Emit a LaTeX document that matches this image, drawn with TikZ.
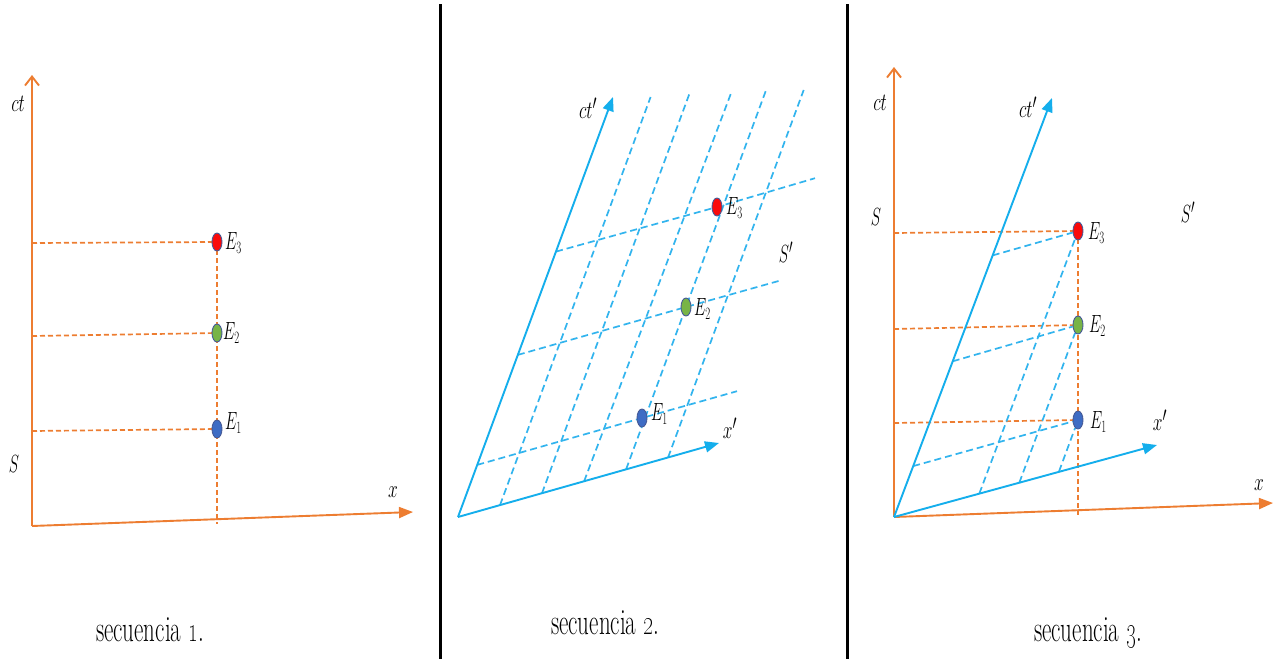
\documentclass[tikz,border=0pt]{standalone}
\usetikzlibrary{arrows.meta,shapes.geometric,backgrounds}
\definecolor{axorange}{RGB}{237,125,49}
\definecolor{axblue}{RGB}{20,174,236}
\definecolor{dashblue}{RGB}{50,180,238}
\definecolor{evred}{RGB}{250,10,10}
\definecolor{evgreen}{RGB}{120,180,70}
\definecolor{evblue}{RGB}{62,108,196}
\definecolor{evrim}{RGB}{70,90,150}
\newcommand\sqz[1]{\scalebox{0.62}[1]{#1}}
\newcommand\sqw[1]{\scalebox{0.7}[1]{#1}}
\tikzset{
  oax/.style={draw=axorange, line width=1.9pt},
  bax/.style={draw=axblue, line width=1.9pt},
  odash/.style={draw=axorange, line width=1.7pt, dash pattern=on 5pt off 3pt},
  bdash/.style={draw=dashblue, line width=1.7pt, dash pattern=on 7pt off 4pt},
  openarr/.style={-{Straight Barb[length=9pt,width=14pt]}},
  fillarr/.style={-{Triangle[length=14pt,width=11pt]}},
  sepline/.style={draw=black, line width=3pt},
  event/.style={ellipse, draw=evrim, line width=0.9pt, minimum width=10pt, minimum height=18pt, inner sep=0pt},
  lab/.style={font=\fontsize{29}{31}\selectfont, inner sep=0pt},
  elab/.style={font=\fontsize{25}{27}\selectfont, inner sep=0pt, anchor=west},
  captext/.style={font=\fontsize{37}{39}\selectfont, inner sep=0pt, anchor=base}
}
\begin{document}
\begin{tikzpicture}[x=1pt,y=-1pt]
\useasboundingbox (0,0) rectangle (1275,659);
\begin{scope}[on background layer]
\fill[white] (0,0) rectangle (1275,659);
\end{scope}

% separators
\coordinate (s1t) at (440,4); \coordinate (s1b) at (440,659);
\coordinate (s2t) at (847,4); \coordinate (s2b) at (847,659);
\draw[sepline] (s1t) -- (s1b);
\draw[sepline] (s2t) -- (s2b);

% ================= panel 1 =================
\coordinate (O1) at (32,526);
\coordinate (T1) at (32,75);
\coordinate (X1) at (413,512);
\node[event, fill=evblue]  (a1) at (217,429) {};
\node[event, fill=evgreen] (a2) at (217,333) {};
\node[event, fill=evred]   (a3) at (217,242) {};
\coordinate (h1) at (32,431);
\coordinate (h2) at (32,336);
\coordinate (h3) at (32,243);
\coordinate (b1) at (217,524);
\begin{scope}[on background layer]
\draw[odash] (h1) -- (a1.center);
\draw[odash] (h2) -- (a2.center);
\draw[odash] (h3) -- (a3.center);
\draw[odash] (a3.center) -- (b1);
\end{scope}
\draw[oax, openarr] (O1) -- (T1);
\draw[oax, fillarr] (O1) -- (X1);
\node[lab] (l1ct) at (18,104) {\sqw{$ct$}};
\node[lab] (l1S) at (14,464) {\sqz{$S$}};
\node[lab] (l1x) at (393,492) {\sqw{$x$}};
\node[elab] (l1e3) at (225,243) {\sqz{$E_3$}};
\node[elab] (l1e2) at (223,333) {\sqz{$E_2$}};
\node[elab] (l1e1) at (225,423) {\sqz{$E_1$}};
\node[captext] (c1) at (150,641) {\sqz{secuencia \oldstylenums{1}.}};

% ================= panel 2 =================
\coordinate (O2) at (458,517);
\coordinate (T2) at (613,97);
\coordinate (X2) at (719,443);
\node[event, fill=evblue]  (e1) at (642,418) {};
\node[event, fill=evgreen] (e2) at (686,307) {};
\node[event, fill=evred]   (e3) at (717,207) {};
\coordinate (p1) at (500.0,505.1); \coordinate (q1) at (650.6,97);
\coordinate (p2) at (542.0,493.2); \coordinate (q2) at (689.7,93);
\coordinate (p3) at (584.1,481.3); \coordinate (q3) at (731.5,92);
\coordinate (p4) at (626.1,469.3); \coordinate (q4) at (766.1,90);
\coordinate (p5) at (668.1,457.4); \coordinate (q5) at (803.7,90);
\coordinate (r1) at (477.2,464.9); \coordinate (t1) at (737,391.2);
\coordinate (r2) at (517.8,354.9); \coordinate (t2) at (780,280.6);
\coordinate (r3) at (556.0,251.6); \coordinate (t3) at (815,178.2);
\begin{scope}[on background layer]
\foreach \i in {1,...,5} {\draw[bdash] (p\i) -- (q\i);}
\draw[bdash] (r1) -- (e1.center) -- (t1);
\draw[bdash] (r2) -- (e2.center) -- (t2);
\draw[bdash] (r3) -- (e3.center) -- (t3);
\end{scope}
\draw[bax, fillarr] (O2) -- (T2);
\draw[bax, fillarr] (O2) -- (X2);
\node[lab] (l2ct) at (588,108) {\sqw{$ct'$}};
\node[lab] (l2x) at (730,428) {\sqw{$x'$}};
\node[lab] (l2S) at (786,252) {\sqz{$S'$}};
\node[elab] (l2e1) at (651,414) {\sqz{$E_1$}};
\node[elab] (l2e2) at (694,309) {\sqz{$E_2$}};
\node[elab] (l2e3) at (726,208) {\sqz{$E_3$}};
\node[captext] (c2) at (605,634) {\sqz{secuencia \oldstylenums{2}.}};

% ================= panel 3 =================
\coordinate (O3) at (894,517);
\coordinate (T3) at (894,67);
\coordinate (X3) at (1273,503);
\coordinate (CT3) at (1052,98);
\coordinate (XP3) at (1157,445);
\node[event, fill=evblue]  (f1) at (1078,420) {};
\node[event, fill=evgreen] (f2) at (1078,325) {};
\node[event, fill=evred]   (f3) at (1078,231) {};
\coordinate (g1) at (894,423);
\coordinate (g2) at (894,329);
\coordinate (g3) at (894,233);
\coordinate (b3) at (1078,515);
\coordinate (u1) at (913.2,466.1);
\coordinate (u2) at (952.7,361.3);
\coordinate (u3) at (992.7,255.4);
\coordinate (v1) at (1059.0,471.5);
\coordinate (v2) at (1019.3,482.7);
\coordinate (v3) at (979.3,493.6);
\begin{scope}[on background layer]
\draw[odash] (g1) -- (f1.center);
\draw[odash] (g2) -- (f2.center);
\draw[odash] (g3) -- (f3.center);
\draw[odash] (f3.center) -- (b3);
\draw[bdash] (u1) -- (f1);
\draw[bdash] (u2) -- (f2);
\draw[bdash] (u3) -- (f3);
\draw[bdash] (v1) -- (f1);
\draw[bdash] (v2) -- (f2);
\draw[bdash] (v3) -- (f3);
\end{scope}
\draw[oax, openarr] (O3) -- (T3);
\draw[oax, fillarr] (O3) -- (X3);
\draw[bax, fillarr] (O3) -- (CT3);
\draw[bax, fillarr] (O3) -- (XP3);
\node[lab] (l3ct) at (880,103) {\sqw{$ct$}};
\node[lab] (l3S) at (876,217) {\sqz{$S$}};
\node[lab] (l3x) at (1259,485) {\sqw{$x$}};
\node[lab] (l3ctp) at (1028,107) {\sqw{$ct'$}};
\node[lab] (l3xp) at (1160,420) {\sqw{$x'$}};
\node[lab] (l3Sp) at (1188,212) {\sqz{$S'$}};
\node[elab] (l3e3) at (1088,233) {\sqz{$E_3$}};
\node[elab] (l3e2) at (1089,326) {\sqz{$E_2$}};
\node[elab] (l3e1) at (1090,422) {\sqz{$E_1$}};
\node[captext] (c3) at (1088,641) {\sqz{secuencia \oldstylenums{3}.}};
\end{tikzpicture}
\end{document}
